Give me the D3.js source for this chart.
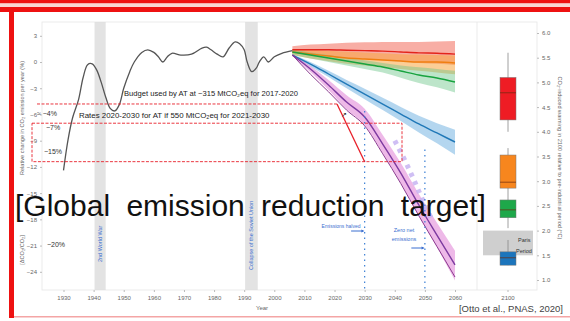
<!DOCTYPE html>
<html>
<head>
<meta charset="utf-8">
<script src="https://cdn.jsdelivr.net/npm/d3@7"></script>
<style>
  html, body { margin: 0; padding: 0; background: #fff; }
  svg { display: block; font-family: "Liberation Sans", Arial, sans-serif; }
</style>
</head>
<body>
<svg id="chart" width="570" height="321"></svg>
<script>
// ---- historical smoothed emission change rate (%/yr) ----
const histYears = [1930, 1931.5, 1933, 1935, 1936.5, 1938, 1939.5, 1941, 1942.5, 1944, 1945.5, 1947,
  1948.5, 1950, 1952, 1953.5, 1956, 1958, 1960, 1961.5, 1963, 1964.5, 1966, 1969, 1972.5, 1976,
  1977.5, 1979, 1981, 1983, 1985, 1987, 1988.5, 1990, 1991, 1992.5, 1994, 1995, 1996.5, 1998,
  2000, 2002.5, 2006];
const histRates = [-12.4, -8.9, -6.4, -4.3, -1.8, -0.3, -0.2, -0.9, -2.3, -4.0, -5.3, -5.6,
  -4.9, -3.0, -1.1, 0.0, 1.1, 1.4, 1.1, 0.6, 0.0, 0.6, 1.0, 0.8, 0.9, 1.6,
  1.7, 1.4, 0.9, 0.6, 1.6, 2.3, 2.1, 1.4, 0.0, -1.1, -0.7, 0.0, 0.6, 0.0,
  0.6, 1.0, 1.3];

// ---- projected pathways ----
const projYears = [2006, 2012, 2018, 2024, 2030, 2036, 2042, 2048, 2054, 2060];
const redMid    = [1.4, 1.4, 1.4, 1.35, 1.3, 1.25, 1.15, 1.05, 1.0, 0.9];
const redHi     = [1.8, 2.0, 2.1, 2.2, 2.25, 2.3, 2.3, 2.3, 2.35, 2.4];
const redLo     = [1.0, 0.8, 0.6, 0.5, 0.35, 0.2, 0.05, -0.1, -0.2, -0.35];
const orangeMid = [1.14, 0.92, 0.69, 0.46, 0.34, 0.23, 0.11, 0.0, 0.0, -0.11];
const orangeHi  = [1.5, 1.4, 1.3, 1.2, 1.1, 1.0, 0.9, 0.85, 0.8, 0.75];
const orangeLo  = [0.8, 0.4, 0.1, -0.2, -0.4, -0.6, -0.8, -1.0, -1.2, -1.4];
const greenMid  = [1.14, 0.8, 0.46, 0.11, -0.23, -0.57, -1.03, -1.49, -1.83, -2.29];
const greenHi   = [1.4, 1.1, 0.8, 0.5, 0.2, -0.1, -0.4, -0.6, -0.8, -1.0];
const greenLo   = [0.8, 0.4, 0.0, -0.4, -0.8, -1.2, -1.8, -2.4, -2.9, -3.5];
const blueMid   = [0.8, -0.23, -1.37, -2.52, -3.66, -4.81, -5.95, -7.09, -8.12, -9.15];
const blueHi    = [0.9, 0.0, -1.0, -2.05, -3.05, -4.1, -5.15, -6.15, -7.0, -7.75];
const blueLo    = [0.7, -0.5, -1.7, -3.0, -4.25, -5.5, -6.75, -8.05, -9.3, -10.6];
const purpleMid = [0.8, -0.8, -2.63, -4.58, -6.29, -9.38, -12.7, -16.36, -19.8, -23.2];
const purpleAlt = [0.8, -1.4, -3.4, -5.5, -7.3, -10.5, -13.9, -17.6, -21.1, -24.6];
const purpleHi  = [0.9, -0.45, -2.05, -3.8, -5.35, -8.35, -11.55, -15.1, -18.4, -21.6];
const purpleLo  = [0.7, -1.15, -3.2, -5.4, -7.2, -10.4, -13.85, -17.6, -21.2, -25.0];

// lavender dotted marker track
const lavYears = [2040, 2043, 2046, 2049, 2052];
const lavRates = [-9.0, -11.0, -13.2, -15.6, -17.8];

// ---- 2100 warming distributions (°C) ----
const boxColors = ["#ee1c24", "#f7861e", "#1ea84a", "#1c75bc"];
const boxMin = [4.00, 2.72, 2.05, 1.30];
const boxQ1  = [4.24, 2.86, 2.26, 1.30];
const boxMed = [4.79, 2.98, 2.42, 1.45];
const boxQ3  = [5.10, 3.53, 2.62, 1.57];
const boxMax = [5.60, 3.67, 2.72, 1.81];
const parisRange = [1.5, 2.0];

// ---- axes ----
const xTicks = [1930, 1940, 1950, 1960, 1970, 1980, 1990, 2000, 2010, 2020, 2030, 2040, 2050, 2060];
const yTicks = [3, 0, -3, -6, -9, -12, -15, -18, -21, -24];
const tTicks = [1.0, 1.5, 2.0, 2.5, 3.0, 3.5, 4.0, 4.5, 5.0, 5.5, 6.0];
const eventBands = [[1940.3, 1944.0], [1990.3, 1994.5]];
const eventLabels = ["2nd World War", "Collapse of the Soviet Union"];
const milestoneYears = [2030, 2050];

const svg = d3.select("#chart");

const x = d3.scaleLinear().domain([1930, 2060]).range([63.5, 455]);
const y = d3.scaleLinear().domain([3, -24]).range([35.8, 271.8]);
const yT = d3.scaleLinear().domain([1.0, 6.0]).range([280, 33]);
const xB = d3.scaleBand().domain(["2100"]).range([484, 532]).paddingInner(0).paddingOuter(0.33);

// ---- slide frame ----
svg.append("rect").attr("x", 0).attr("y", 0).attr("width", 570).attr("height", 3.5).attr("fill", "#ee1111");
svg.append("rect").attr("x", 0).attr("y", 3.5).attr("width", 570).attr("height", 3.5).attr("fill", "#f9d6d2");
svg.append("rect").attr("x", 0).attr("y", 7).attr("width", 570).attr("height", 5).attr("fill", "#ee1111");
svg.append("rect").attr("x", 9).attr("y", 7).attr("width", 5).attr("height", 311).attr("fill", "#ee1111");
svg.append("rect").attr("x", 14).attr("y", 316).attr("width", 556).attr("height", 1.5).attr("fill", "#f4a5a5");

// ---- plot frame ----
svg.append("rect").attr("x", 42).attr("y", 22).attr("width", 495).attr("height", 268)
  .attr("fill", "none").attr("stroke", "#e6e6e6").attr("stroke-width", 0.8);
svg.append("line").attr("x1", 477).attr("x2", 477).attr("y1", 22).attr("y2", 290)
  .attr("stroke", "#e6e6e6").attr("stroke-width", 0.8);

// ---- event bands ----
svg.selectAll("rect.event").data(eventBands).join("rect")
  .attr("class", "event")
  .attr("x", d => x(d[0])).attr("width", d => x(d[1]) - x(d[0]))
  .attr("y", 22).attr("height", 268)
  .attr("fill", "#dcdcdc").attr("opacity", 0.8);
svg.selectAll("text.event").data(eventBands).join("text")
  .attr("class", "event")
  .attr("transform", (d, i) => `translate(${x((d[0] + d[1]) / 2) + 2},${i === 0 ? 262 : 270}) rotate(-90)`)
  .attr("font-size", 5.5).attr("fill", "#3b6fd0")
  .text((d, i) => eventLabels[i]);

// ---- axes ----
const gx = svg.append("g").attr("transform", "translate(0,290)")
  .call(d3.axisBottom(x).tickValues(xTicks).tickSize(2).tickFormat(d3.format("d")));
const gx2 = svg.append("g").attr("transform", "translate(0,290)")
  .call(d3.axisBottom(xB).tickSize(2));
const gy = svg.append("g").attr("transform", "translate(42,0)")
  .call(d3.axisLeft(y).tickValues(yTicks).tickSize(2).tickFormat(d => d3.format("d")(d).replace("-", "\u2212")));
const gr = svg.append("g").attr("transform", "translate(537,0)")
  .call(d3.axisRight(yT).tickValues(tTicks).tickSize(2).tickFormat(d3.format(".1f")));
[gx, gx2, gy, gr].forEach(g => {
  g.select(".domain").remove();
  g.selectAll(".tick line").attr("stroke", "#bbb");
  g.selectAll(".tick text").attr("fill", "#666").attr("font-size", 6)
    .attr("font-family", "Liberation Sans, Arial, sans-serif");
});
gx.selectAll(".tick text").attr("dy", "0.9em");
gx2.selectAll(".tick text").attr("dy", "0.9em");

svg.append("text").attr("x", 262).attr("y", 310).attr("text-anchor", "middle")
  .attr("font-size", 6).attr("fill", "#666").text("Year");
// left axis title, split around the headline
svg.append("text").attr("transform", "translate(24,118) rotate(-90)").attr("text-anchor", "middle")
  .attr("font-size", 5.6).attr("fill", "#666")
  .text("Relative change in CO\u2082 emission per year (%)");
svg.append("text").attr("transform", "translate(24,250) rotate(-90)").attr("text-anchor", "middle")
  .attr("font-size", 5.6).attr("fill", "#666")
  .text("[\u0394CO\u2082/CO\u2082]");
svg.append("text").attr("transform", "translate(558,158) rotate(90)").attr("text-anchor", "middle")
  .attr("font-size", 5.6).attr("fill", "#666")
  .text("CO\u2082-induced warming in 2100 relative to pre-industrial period (\u00B0C)");

// ---- projection fans ----
const area = (hi, lo) => d3.area().curve(d3.curveMonotoneX)
  .x((d, i) => x(projYears[i])).y0((d, i) => y(lo[i])).y1((d, i) => y(hi[i]))(projYears);
const line = (vals) => d3.line().curve(d3.curveMonotoneX)
  .x((d, i) => x(projYears[i])).y((d, i) => y(vals[i]))(projYears);

const fans = [
  { hi: redHi, lo: redLo, mid: redMid, fill: "#f26b5b", op: 0.55, stroke: "#e3241b" },
  { hi: orangeHi, lo: orangeLo, mid: orangeMid, fill: "#f7a541", op: 0.55, stroke: "#ef7f12" },
  { hi: greenHi, lo: greenLo, mid: greenMid, fill: "#6cc68a", op: 0.45, stroke: "#17a33f" },
  { hi: blueHi, lo: blueLo, mid: blueMid, fill: "#69aee0", op: 0.5, stroke: "#2179b8" },
  { hi: purpleHi, lo: purpleLo, mid: purpleMid, fill: "#e07fd6", op: 0.55, stroke: "#7d3aa0" }
];
fans.forEach(f => {
  svg.append("path").attr("d", area(f.hi, f.lo)).attr("fill", f.fill).attr("opacity", f.op);
});
fans.forEach(f => {
  svg.append("path").attr("d", line(f.mid)).attr("fill", "none")
    .attr("stroke", f.stroke).attr("stroke-width", 1.4);
});
svg.append("path").attr("d", line(purpleAlt)).attr("fill", "none")
  .attr("stroke", "#8a3a8f").attr("stroke-width", 1.0);

// lavender dotted track
svg.append("path")
  .attr("d", d3.line().x((d, i) => x(lavYears[i])).y((d, i) => y(lavRates[i]))(lavYears))
  .attr("fill", "none").attr("stroke", "#c7b4f2").attr("stroke-width", 5)
  .attr("stroke-dasharray", "4,5").attr("opacity", 0.85);

// ---- historical curve ----
svg.append("path")
  .attr("d", d3.line().curve(d3.curveCatmullRom).x((d, i) => x(histYears[i])).y((d, i) => y(histRates[i]))(histYears))
  .attr("fill", "none").attr("stroke", "#555").attr("stroke-width", 1.3);

// ---- milestone dotted verticals ----
const milestoneTop = [-5.6, -10.0];
svg.selectAll("line.milestone").data(milestoneYears).join("line")
  .attr("class", "milestone")
  .attr("x1", d => x(d)).attr("x2", d => x(d))
  .attr("y1", (d, i) => y(milestoneTop[i])).attr("y2", 292)
  .attr("stroke", "#3b7fd4").attr("stroke-width", 1.2).attr("stroke-dasharray", "1.5,4");

// milestone notes
const blue = "#3b6fd0";
svg.append("text").attr("x", 341).attr("y", 227.5).attr("text-anchor", "middle")
  .attr("font-size", 5).attr("fill", blue).text("Emissions halved");
svg.append("line").attr("x1", x(2025.5)).attr("x2", x(2029.5)).attr("y1", 231).attr("y2", 231)
  .attr("stroke", blue).attr("stroke-width", 1);
svg.append("path").attr("d", `M${x(2029.9)},231 l-3,-1.6 v3.2 z`).attr("fill", blue);
svg.append("text").attr("x", 404).attr("y", 232).attr("text-anchor", "middle")
  .attr("font-size", 5.5).attr("fill", blue).text("Zero net");
svg.append("text").attr("x", 404).attr("y", 241).attr("text-anchor", "middle")
  .attr("font-size", 5.5).attr("fill", blue).text("emissions");
svg.append("line").attr("x1", x(2045.5)).attr("x2", x(2049.5)).attr("y1", 248).attr("y2", 248)
  .attr("stroke", blue).attr("stroke-width", 1);
svg.append("path").attr("d", `M${x(2049.9)},248 l-3,-1.6 v3.2 z`).attr("fill", blue);

// ---- budget / rate annotations ----
const red = "#e8202a";
const rateLevels = [-4.8, -7.0, -11.4];
svg.append("line").attr("x1", 37).attr("x2", 337).attr("y1", y(rateLevels[0])).attr("y2", y(rateLevels[0]))
  .attr("stroke", red).attr("stroke-width", 0.9).attr("stroke-dasharray", "3,1.5");
svg.append("rect").attr("x", 32).attr("y", y(rateLevels[1]))
  .attr("width", 370).attr("height", y(rateLevels[2]) - y(rateLevels[1]))
  .attr("fill", "none").attr("stroke", red).attr("stroke-width", 0.9).attr("stroke-dasharray", "3,1.5");
svg.append("line").attr("x1", 337).attr("y1", y(rateLevels[0]))
  .attr("x2", x(2030)).attr("y2", y(rateLevels[2]))
  .attr("stroke", red).attr("stroke-width", 1.3);

svg.append("text").attr("x", 124).attr("y", 96).attr("font-size", 7.6).attr("fill", "#222")
  .text("Budget used by AT at ~315 MtCO\u2082eq for 2017-2020");
svg.append("text").attr("x", 79).attr("y", 118).attr("font-size", 7.9).attr("fill", "#222")
  .text("Rates 2020-2030 for AT if 550 MtCO\u2082eq for 2021-2030");
svg.append("text").attr("x", 341).attr("y", 117).attr("font-size", 7).attr("fill", "#222").text("\u2197");

const pctLabels = ["\u2248 \u22124%", "\u22127%", "\u221215%", "\u221220%"];
const pctPos = [[37, 116], [46, 130], [44, 154], [47, 247]];
svg.selectAll("text.pct").data(pctLabels).join("text")
  .attr("class", "pct")
  .attr("x", (d, i) => pctPos[i][0]).attr("y", (d, i) => pctPos[i][1])
  .attr("font-size", 7).attr("fill", "#333").text(d => d);

// ---- 2100 box plots ----
const bx = xB("2100");
const bw = xB.bandwidth();
const cx = bx + bw / 2;
svg.append("rect").attr("x", 483).attr("width", 50)
  .attr("y", yT(parisRange[1])).attr("height", yT(parisRange[0]) - yT(parisRange[1]))
  .attr("fill", "#cfcfcf");
svg.append("text").attr("x", 518).attr("y", 242).attr("font-size", 5.5).attr("fill", "#333").text("Paris");
svg.append("text").attr("x", 516).attr("y", 253).attr("font-size", 5.5).attr("fill", "#333").text("Period");

boxColors.forEach((c, i) => {
  svg.append("line").attr("x1", cx).attr("x2", cx).attr("y1", yT(boxMin[i])).attr("y2", yT(boxMax[i]))
    .attr("stroke", "#888").attr("stroke-width", 0.8);
  svg.append("rect").attr("x", cx - 8).attr("width", 16)
    .attr("y", yT(boxQ3[i])).attr("height", Math.max(yT(boxQ1[i]) - yT(boxQ3[i]), 1))
    .attr("fill", c).attr("stroke", "#777").attr("stroke-width", 0.5);
  svg.append("line").attr("x1", cx - 8).attr("x2", cx + 8).attr("y1", yT(boxMed[i])).attr("y2", yT(boxMed[i]))
    .attr("stroke", "#6b2b10").attr("stroke-width", 1).attr("opacity", 0.7);
});

// ---- headline ----
svg.append("text").attr("x", 15).attr("y", 216).attr("font-size", 30).attr("fill", "#111")
  .attr("word-spacing", 8)
  .text("[Global emission reduction target]");

// ---- source ----
svg.append("text").attr("x", 563).attr("y", 312).attr("text-anchor", "end")
  .attr("font-size", 9.5).attr("fill", "#444").text("[Otto et al., PNAS, 2020]");
</script>
</body>
</html>
